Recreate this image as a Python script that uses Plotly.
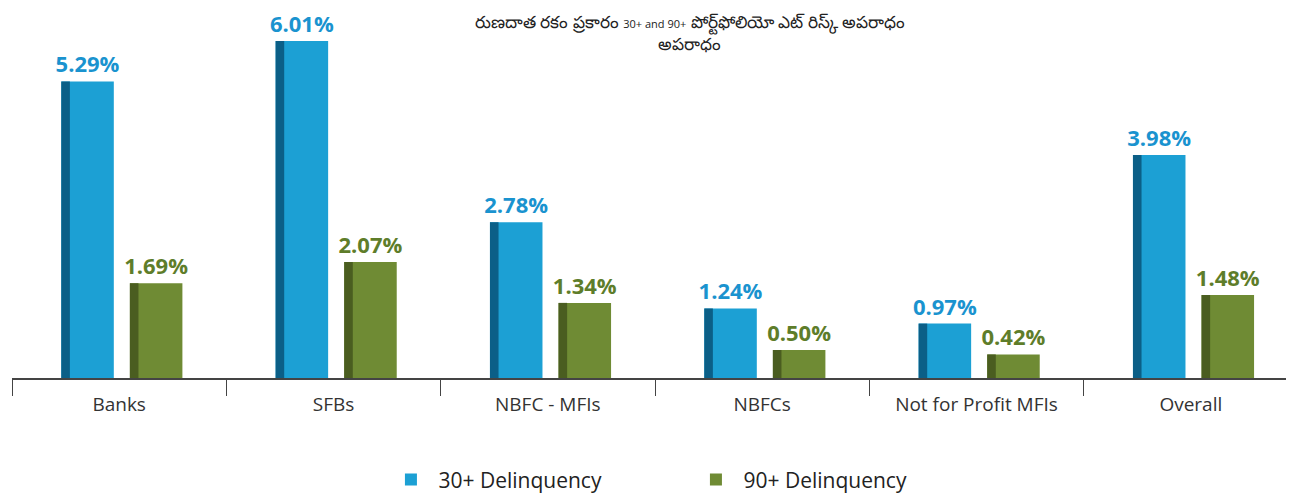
import plotly.graph_objects as go

categories = ["Banks", "SFBs", "NBFC - MFIs", "NBFCs", "Not for Profit MFIs", "Overall"]
dpd30 = [5.29, 6.01, 2.78, 1.24, 0.97, 3.98]
dpd90 = [1.69, 2.07, 1.34, 0.50, 0.42, 1.48]
labels30 = [f"{v:.2f}%" for v in dpd30]
labels90 = [f"{v:.2f}%" for v in dpd90]

title_text = ("రుణదాత రకం ప్రకారం <span style='font-size:11px'>30+ and 90+</span> "
              "పోర్ట్‌ఫోలియో ఎట్ రిస్క్ అపరాధం<br>అపరాధం")

BLUE = "#1ca0d4"
BLUE_DARK = "#0b5f87"
GREEN = "#6f8b34"
GREEN_DARK = "#4a5d20"
W = 0.245
SIDE = 0.04

fig = go.Figure()

# main faces
fig.add_trace(go.Bar(x=categories, y=dpd30, name="30+ Delinquency", offset=-0.27, width=W,
                     marker=dict(color=BLUE, line=dict(width=0)),
                     text=labels30, textposition="outside", cliponaxis=False, constraintext="none",
                     textfont=dict(color="#1a93cf", size=22, family="Open Sans", weight="bold")))
fig.add_trace(go.Bar(x=categories, y=dpd90, name="90+ Delinquency", offset=0.05, width=W,
                     marker=dict(color=GREEN, line=dict(width=0)),
                     text=labels90, textposition="outside", cliponaxis=False, constraintext="none",
                     textfont=dict(color="#5e7d2a", size=22, family="Open Sans", weight="bold")))
# darker side strips for the 3d look
fig.add_trace(go.Bar(x=categories, y=dpd30, offset=-0.27, width=SIDE, showlegend=False,
                     marker=dict(color=BLUE_DARK, line=dict(width=0)), hoverinfo="skip"))
fig.add_trace(go.Bar(x=categories, y=dpd90, offset=0.05, width=SIDE, showlegend=False,
                     marker=dict(color=GREEN_DARK, line=dict(width=0)), hoverinfo="skip"))

fig.update_layout(
    width=1294, height=493,
    barmode="overlay",
    paper_bgcolor="white", plot_bgcolor="white",
    margin=dict(l=4, r=4, t=0, b=121),
    font=dict(family="Open Sans", color="#333333"),
    xaxis=dict(showline=True, linecolor="#444444", linewidth=1.5,
               ticks="outside", tickson="boundaries", ticklen=16, tickcolor="#444444",
               ticklabelstandoff=8,
               tickfont=dict(size=19, color="#333333"), showgrid=False),
    yaxis=dict(range=[0, 6.6], visible=False, showgrid=False),
    legend=dict(orientation="h", x=0.526, xanchor="center", y=-0.22, yanchor="top",
                font=dict(size=21, color="#222222"), entrywidth=245, itemwidth=45),
    annotations=[dict(text=title_text, x=0.527, y=1.0, xref="paper", yref="paper",
                      xanchor="center", yanchor="top", showarrow=False,
                      font=dict(size=17, color="#222222"))],
)

fig.write_html("out.html")
